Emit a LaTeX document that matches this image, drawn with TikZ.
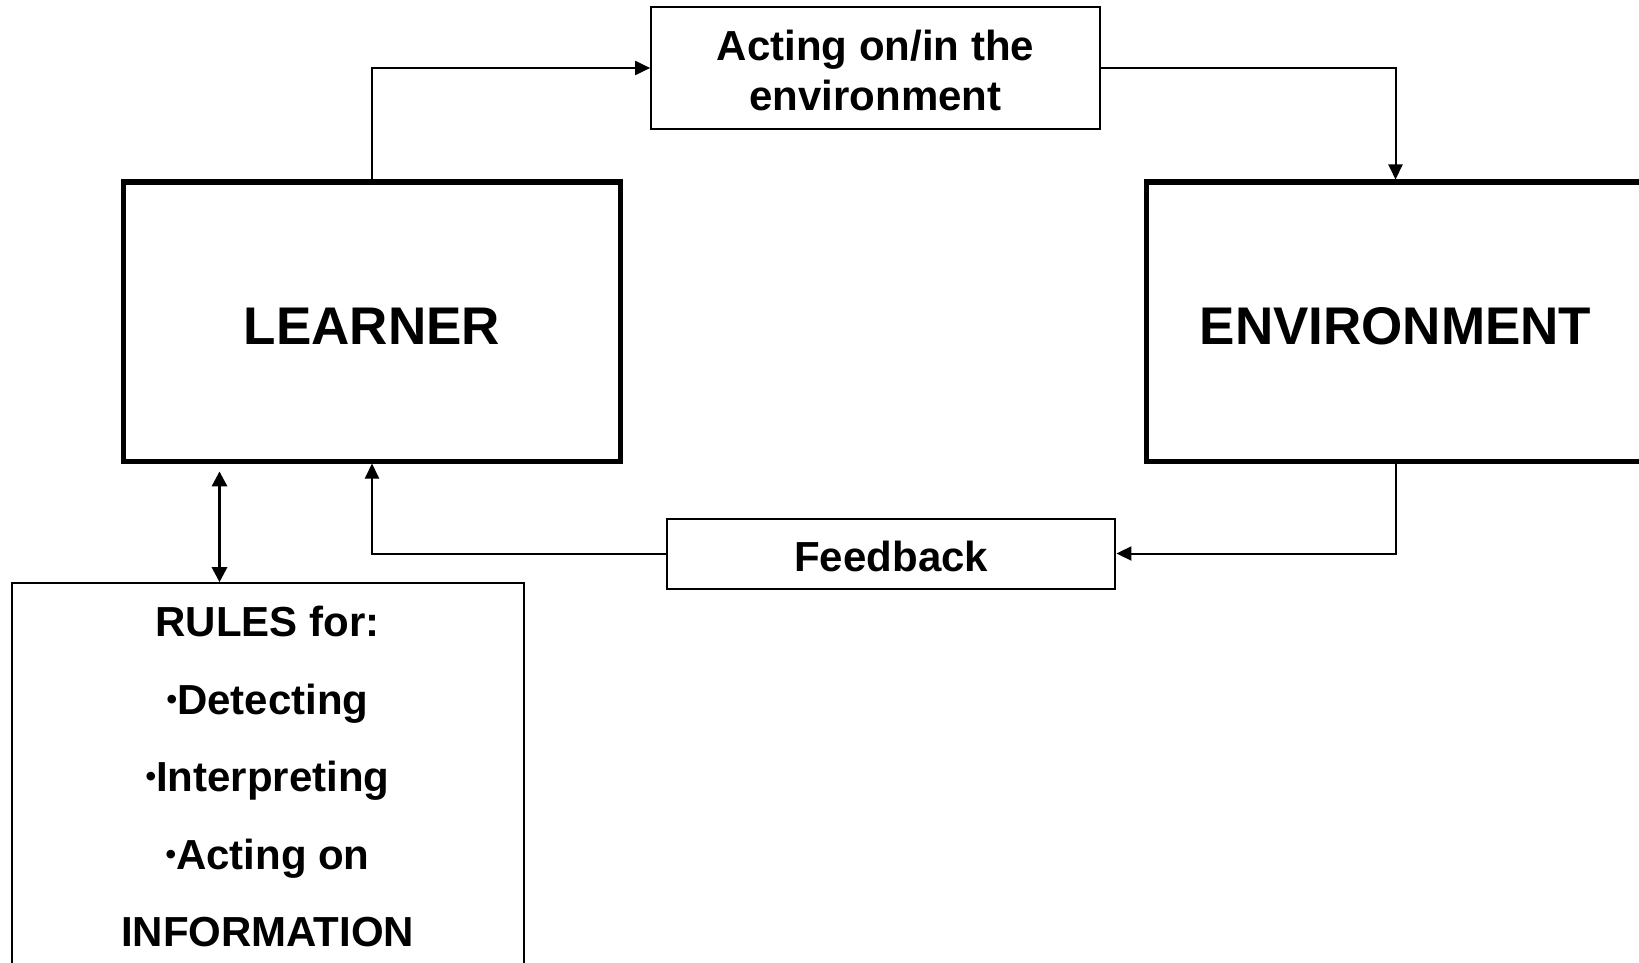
\documentclass[tikz,border=0pt]{standalone}
\usepackage{fontspec}
\setmainfont{Liberation Sans}
\usetikzlibrary{arrows.meta}
\newcommand{\smallbul}{\raisebox{5pt}{\fontsize{30}{30}\selectfont\textbullet}}
\begin{document}
\begin{tikzpicture}[x=1pt,y=-1pt,
  bigbox/.style={draw, line width=5pt, minimum width=497.6pt, minimum height=279pt, inner sep=0pt, text height=46pt, text depth=0pt, font=\fontsize{53}{60}\selectfont\bfseries},
  smallbox/.style={draw, line width=2pt, minimum width=448.5pt, inner sep=0pt, align=center, font=\fontsize{42}{50}\selectfont\bfseries},
  rulesbox/.style={draw, line width=2pt, minimum width=512pt, minimum height=420pt, inner sep=0pt, anchor=north},
  rulestext/.style={align=center, inner sep=0pt, font=\fontsize{42}{77.5}\selectfont\bfseries},
  arr/.style={line width=2pt, -{Triangle[length=15pt,width=14pt]}},
  darr/.style={line width=3pt, {Triangle[length=15pt,width=15pt]}-{Triangle[length=15pt,width=15pt]}}]
\useasboundingbox[fill=white] (0,0) rectangle (1639,963);
\node[bigbox] (learner) at (372,321.5) {LEARNER};
\node[bigbox] (env) at (1395.5,321.5) {ENVIRONMENT};
\node[smallbox, minimum height=121.3pt] (acting) at (875.4,68) {\rule{0pt}{35pt}Acting on/in the\\environment};
\node[smallbox, minimum height=70pt, text height=36.7pt, text depth=0pt] (feedback) at (891.2,553.5) {Feedback};
\node[rulesbox] (rules) at (267.6,582.2) {};
\node[rulestext] (rulestxt) at (267.6,776.5) {RULES for:\\\smallbul Detecting\\\smallbul Interpreting\\\smallbul Acting on\\INFORMATION};
\draw[arr] (learner.north) |- (acting.west);
\draw[arr] (acting.east) -| (env.north);
\draw[arr] (env.south) |- (feedback.east);
\draw[arr] (feedback.west) -| (learner.south);
\coordinate (dtop) at (219.5,471.4);
\draw[darr] (dtop) -- (dtop |- rules.north);
\end{tikzpicture}
\end{document}
